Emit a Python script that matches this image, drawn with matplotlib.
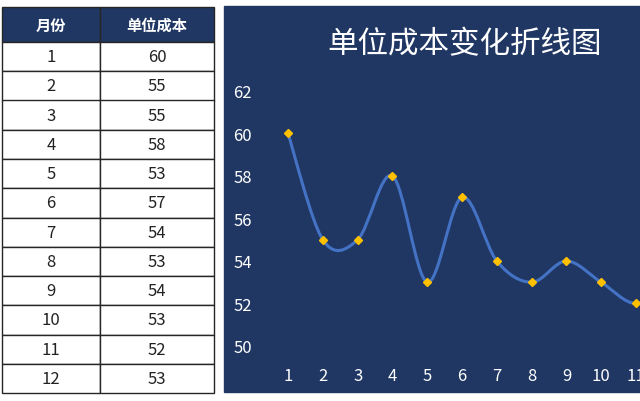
import numpy as np
from matplotlib import pyplot as plt
from matplotlib.patches import Rectangle, PathPatch
from matplotlib.path import Path

plt.rcParams['font.family'] = ['Noto Sans CJK SC', 'DejaVu Sans']

# data
months = [1, 2, 3, 4, 5, 6, 7, 8, 9, 10, 11, 12]
cost = [60, 55, 55, 58, 53, 57, 54, 53, 54, 53, 52, 53]
col_labels = ['月份', '单位成本']
y_ticks = [50, 52, 54, 56, 58, 60, 62]

navy = '#203764'
line_blue = '#4472C4'
marker_yellow = '#FFC000'

W, H = 640, 402
fig = plt.figure(figsize=(W / 100, H / 100), dpi=100)

# dark panel behind the chart
fig.patches.append(Rectangle((224 / W, 9 / H), (W - 224) / W, 386 / H,
                             transform=fig.transFigure, color=navy, zorder=-5))

# ---- table on the left ----
tax = fig.add_axes([2 / W, 8 / H, 212 / W, 386 / H])
tax.axis('off')
rows = [[str(m), str(c)] for m, c in zip(months, cost)]
tbl = tax.table(cellText=rows, colLabels=col_labels, cellLoc='center',
                bbox=[0, 0, 1, 1])
tbl.auto_set_font_size(False)
tbl.set_fontsize(12)
for (r, c), cell in tbl.get_celld().items():
    cell.set_width(98 if c == 0 else 114)
    cell.set_height(35 if r == 0 else 29.25)
    cell.set_edgecolor('#262626')
    cell.set_linewidth(1)
    if r == 0:
        cell.set_facecolor(navy)
        cell.get_text().set_color('white')
        cell.get_text().set_fontweight('bold')
        cell.get_text().set_fontsize(11)
    else:
        cell.get_text().set_color('#222222')

# ---- smoothed line chart ----
ax = fig.add_axes([260.2 / W, 55 / H, 438.4 / W, 255 / H])
ax.set_facecolor('none')
for s in ax.spines.values():
    s.set_visible(False)

# Catmull-Rom style bezier through the points (like Excel smoothing)
pts = np.column_stack([months, cost]).astype(float)
n = len(pts)
verts = [tuple(pts[0])]
codes = [Path.MOVETO]
for i in range(n - 1):
    p0 = pts[i - 1] if i > 0 else pts[i]
    p1 = pts[i]
    p2 = pts[i + 1]
    p3 = pts[i + 2] if i + 2 < n else pts[i + 1]
    c1 = p1 + (p2 - p0) / 6
    c2 = p2 - (p3 - p1) / 6
    verts += [tuple(c1), tuple(c2), tuple(p2)]
    codes += [Path.CURVE4] * 3
ax.add_patch(PathPatch(Path(verts, codes), facecolor='none',
                       edgecolor=line_blue, lw=2.2, zorder=2))
ax.plot(months, cost, 'D', color=marker_yellow, ms=4.5, zorder=3)

ax.set_xlim(0.2, 12.8)
ax.set_ylim(50, 62)
ax.set_xticks(months)
ax.set_yticks(y_ticks)
ax.tick_params(axis='both', length=0, colors='white', labelsize=12)
ax.tick_params(axis='x', pad=15)
ax.tick_params(axis='y', pad=6)

fig.text(465 / W, 1 - 45 / H, '单位成本变化折线图', ha='center', va='center',
         fontsize=22, color='white')

plt.savefig('out.png', dpi=100)
